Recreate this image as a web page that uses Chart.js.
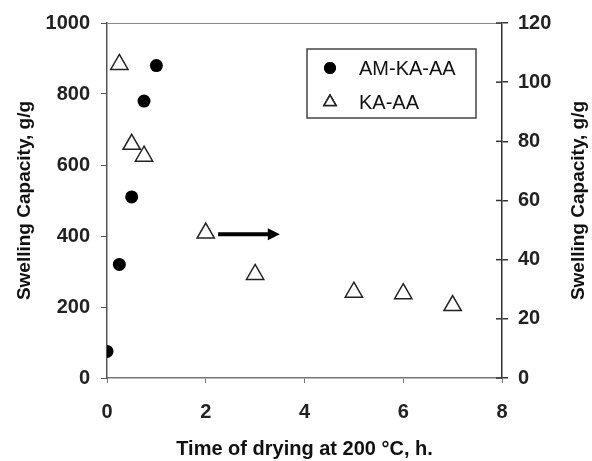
<!DOCTYPE html>
<html>
<head>
<meta charset="utf-8">
<script src="https://cdn.jsdelivr.net/npm/chart.js@4/dist/chart.umd.min.js"></script>
<style>
  html, body { margin: 0; padding: 0; background: #fff; }
  #wrap { width: 592px; height: 461px; }
</style>
</head>
<body>
<div id="wrap"><canvas id="chart" width="592" height="461"></canvas></div>
<script>
// AM-KA-AA, left axis (g/g)
const amTime = [0, 0.25, 0.5, 0.75, 1];
const amSwell = [75, 320, 510, 780, 880];
// KA-AA, right axis (g/g)
const kaTime = [0.25, 0.5, 0.75, 2, 3, 5, 6, 7];
const kaSwell = [106, 79, 75, 49, 35, 29, 28.5, 24.5];
// arrow pointing to the right axis (x, left-axis y)
const arrowFrom = [2.25, 405];
const arrowTo = [3.5, 405];
const seriesNames = ['AM-KA-AA', 'KA-AA'];

const FONT = "'Liberation Sans', Arial, sans-serif";
const tickFont = { family: FONT, size: 20, weight: 'bold' };
const titleFont = { family: FONT, size: 19, weight: 'bold' };

const data = {
    datasets: [{
        label: seriesNames[0],
        data: amTime.map((t, i) => ({ x: t, y: amSwell[i] })),
        yAxisID: 'y',
        pointStyle: 'circle',
        pointRadius: 6.5,
        backgroundColor: '#000',
        borderColor: '#000',
        borderWidth: 0,
        showLine: false
    }, {
        label: seriesNames[1],
        data: kaTime.map((t, i) => ({ x: t, y: kaSwell[i] })),
        yAxisID: 'y2',
        pointStyle: 'triangle',
        pointRadius: 10,
        backgroundColor: '#fff',
        borderColor: '#222',
        borderWidth: 1.5,
        showLine: false
    }]
};

// extras: top frame line, inner ticks on right axis, arrow, legend, right title
const extras = {
    id: 'extras',
    afterDraw(chart) {
        const { ctx, chartArea: { top, bottom, left, right }, scales: { x, y, y2 } } = chart;
        ctx.save();
        // top line
        ctx.strokeStyle = '#888';
        ctx.lineWidth = 1;
        ctx.beginPath();
        ctx.moveTo(left, top + 0.5);
        ctx.lineTo(right, top + 0.5);
        ctx.stroke();

        // inner ticks of right axis
        ctx.strokeStyle = '#333';
        ctx.lineWidth = 1.5;
        y2.ticks.forEach(t => {
            const py = y2.getPixelForValue(t.value);
            ctx.beginPath();
            ctx.moveTo(right - 6, py);
            ctx.lineTo(right, py);
            ctx.stroke();
        });

        // arrow
        const ax0 = x.getPixelForValue(arrowFrom[0]);
        const ax1 = x.getPixelForValue(arrowTo[0]);
        const ay = y.getPixelForValue(arrowFrom[1]);
        ctx.strokeStyle = '#000';
        ctx.fillStyle = '#000';
        ctx.lineWidth = 4;
        ctx.beginPath();
        ctx.moveTo(ax0, ay);
        ctx.lineTo(ax1 - 9, ay);
        ctx.stroke();
        ctx.beginPath();
        ctx.moveTo(ax1, ay);
        ctx.lineTo(ax1 - 12, ay - 6);
        ctx.lineTo(ax1 - 12, ay + 6);
        ctx.closePath();
        ctx.fill();

        // legend box
        const lx = left + 200, ly = top + 26, lw = 169, lh = 69;
        ctx.strokeStyle = '#444';
        ctx.lineWidth = 1.5;
        ctx.strokeRect(lx, ly, lw, lh);
        ctx.font = '20px ' + FONT;
        ctx.fillStyle = '#111';
        ctx.textBaseline = 'middle';
        ctx.textAlign = 'left';
        chart.data.datasets.forEach((ds, i) => {
            const cy = ly + 19 + i * 34;
            Chart.helpers.drawPoint(ctx, {
                pointStyle: ds.pointStyle,
                radius: i === 0 ? 6 : 7,
                borderWidth: ds.borderWidth
            }, lx + 23, cy);
            ctx.fillStyle = ds.backgroundColor;
            ctx.strokeStyle = ds.borderColor;
            ctx.lineWidth = ds.borderWidth;
            if (i === 0) ctx.fill(); else { ctx.fill(); ctx.stroke(); }
            ctx.fillStyle = '#111';
            ctx.fillText(ds.label, lx + 52, cy + 1);
        });

        // right axis title, reading upward
        ctx.save();
        ctx.translate(579, (top + bottom) / 2);
        ctx.rotate(-Math.PI / 2);
        ctx.font = 'bold 19px ' + FONT;
        ctx.fillStyle = '#111';
        ctx.textAlign = 'center';
        ctx.textBaseline = 'middle';
        ctx.fillText('Swelling Capacity, g/g', 0, 0);
        ctx.restore();

        ctx.restore();
    }
};

const config = {
    type: 'scatter',
    data,
    options: {
        responsive: false,
        animation: false,
        layout: { padding: { top: 22, right: 0, bottom: 0, left: 0 } },
        plugins: {
            legend: { display: false },
            tooltip: { enabled: false }
        },
        scales: {
            x: {
                type: 'linear',
                min: 0,
                max: 8,
                ticks: { stepSize: 2, font: tickFont, color: '#222', padding: 17 },
                grid: { drawOnChartArea: false, tickLength: 5, color: '#777' },
                border: { color: '#777', width: 1.5 },
                title: { display: true, text: 'Time of drying at 200 °C, h.', font: { family: FONT, size: 20, weight: 'bold' }, color: '#111', padding: { top: 0, bottom: 0 } },
                afterFit(scale) { scale.height = 83; }
            },
            y: {
                position: 'left',
                min: 0,
                max: 1000,
                ticks: { stepSize: 200, font: tickFont, color: '#222', padding: 11, callback: v => String(v) },
                grid: { drawOnChartArea: false, tickLength: 6, color: '#555' },
                border: { color: '#555', width: 1.5 },
                title: { display: true, text: 'Swelling Capacity, g/g', font: titleFont, color: '#111', padding: { top: 13, bottom: 0 } },
                afterFit(scale) { scale.width = 107; }
            },
            y2: {
                position: 'right',
                min: 0,
                max: 120,
                ticks: { stepSize: 20, font: tickFont, color: '#222', padding: 10, callback: v => String(v) },
                grid: { drawOnChartArea: false, tickLength: 6, color: '#333', lineWidth: 1.5 },
                border: { color: '#333', width: 1.5 },
                afterFit(scale) { scale.width = 90; }
            }
        }
    },
    plugins: [extras]
};

const myChart = new Chart(document.getElementById('chart'), config);
</script>
</body>
</html>
